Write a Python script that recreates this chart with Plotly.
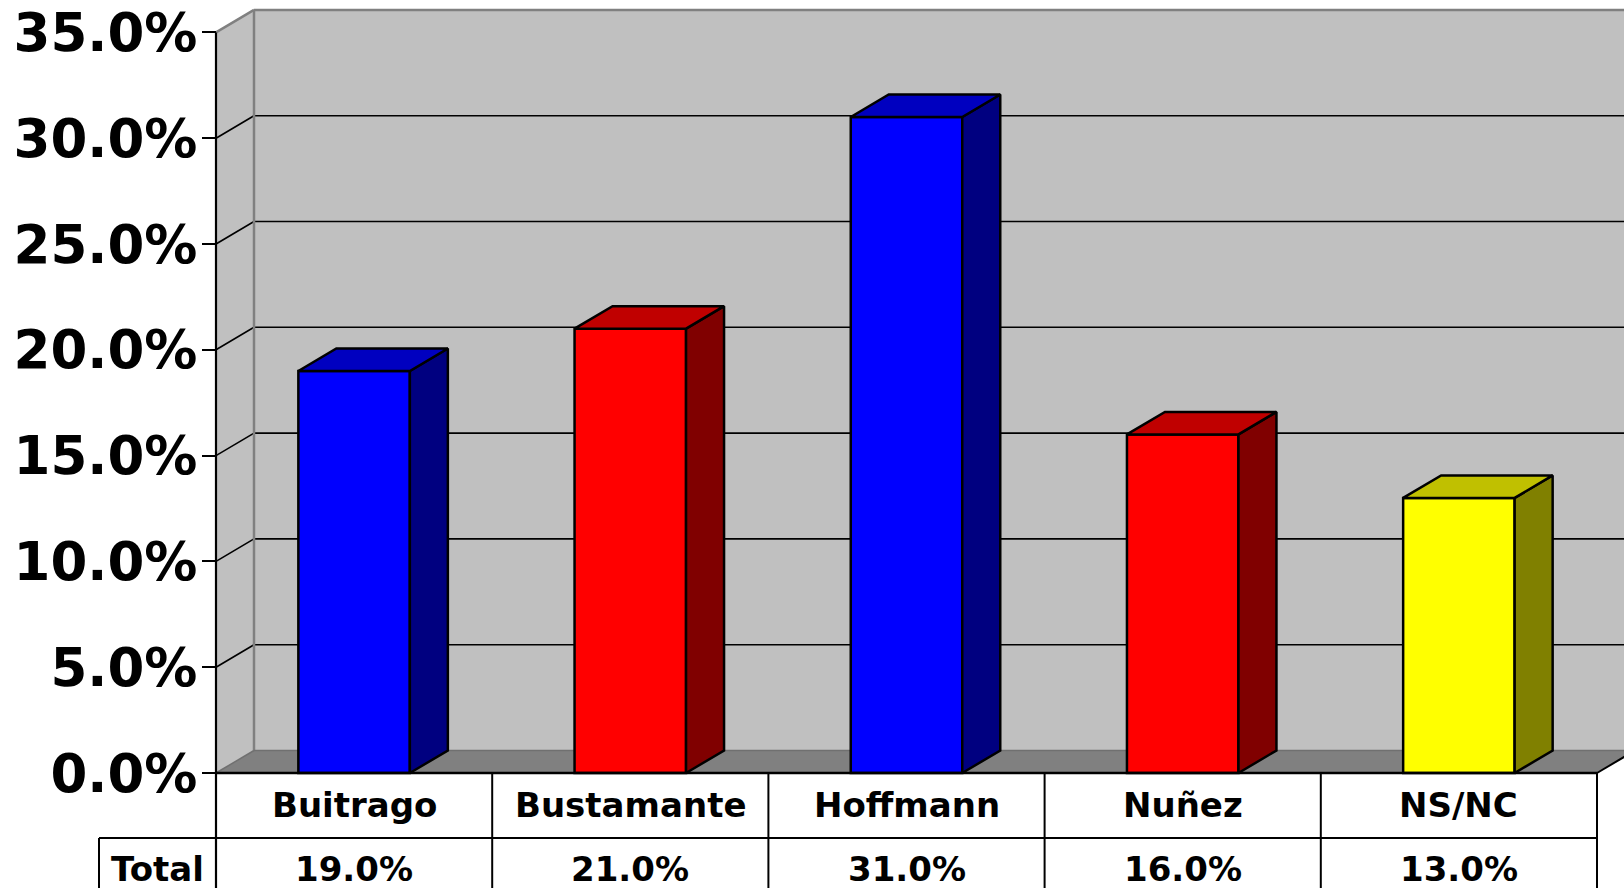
import plotly.graph_objects as go

# ---- data ----
categories = ["Buitrago", "Bustamante", "Hoffmann", "Nuñez", "NS/NC"]
values = [19.0, 21.0, 31.0, 16.0, 13.0]
row_label = "Total"
tick_values = [0, 5, 10, 15, 20, 25, 30, 35]
tick_labels = ["0.0%", "5.0%", "10.0%", "15.0%", "20.0%", "25.0%", "30.0%", "35.0%"]
front_colors = ["#0000FF", "#FF0000", "#0000FF", "#FF0000", "#FFFF00"]
side_colors = ["#000080", "#800000", "#000080", "#800000", "#808000"]
top_colors = ["#0000C0", "#C00000", "#0000C0", "#C00000", "#C0C000"]

# ---- layout geometry (pixels -> axis units) ----
W, H = 1624, 888
X0, CW = 216.0, 276.2      # pixel of left table edge, column width
Y0, K = 773.0, 21.16       # pixel of 0 %, pixels per 1 %


def px_x(p):
    return (p - X0) / CW - 0.5


def px_y(p):
    return (Y0 - p) / K


n = len(categories)
idx = list(range(n))
XA = -0.5
XE = n - 0.5
DX = 38.0 / CW
DY = 22.5 / K
BW = 111.5 / CW
YMAX = tick_values[-1]
xr = [px_x(0), px_x(W)]
yr = [px_y(H), px_y(0)]
XFAR = xr[1] + 1


def poly(pts):
    return "M " + " L ".join(f"{x},{y}" for x, y in pts) + " Z"


shapes = []
# back wall
shapes.append(dict(type="rect", xref="x", yref="y", x0=XA + DX, x1=XFAR, y0=DY, y1=YMAX + DY,
                   fillcolor="#C0C0C0", line=dict(width=0), layer="below"))
# side wall
shapes.append(dict(type="path", xref="x", yref="y",
                   path=poly([(XA, 0), (XA, YMAX), (XA + DX, YMAX + DY), (XA + DX, DY)]),
                   fillcolor="#C0C0C0", line=dict(width=0), layer="below"))
# floor
shapes.append(dict(type="path", xref="x", yref="y",
                   path=poly([(XA, 0), (XA + DX, DY), (XE + DX, DY), (XE, 0)]),
                   fillcolor="#808080", line=dict(width=0), layer="below"))
# gridlines on back wall and side wall
for v in tick_values[1:-1]:
    shapes.append(dict(type="line", xref="x", yref="y", x0=XA + DX, x1=XFAR, y0=v + DY, y1=v + DY,
                       line=dict(color="black", width=1.6), layer="below"))
    shapes.append(dict(type="line", xref="x", yref="y", x0=XA, x1=XA + DX, y0=v, y1=v + DY,
                       line=dict(color="black", width=1.6), layer="below"))
# wall borders (gray)
shapes.append(dict(type="line", xref="x", yref="y", x0=XA + DX, x1=XFAR, y0=YMAX + DY, y1=YMAX + DY,
                   line=dict(color="#808080", width=2.5), layer="below"))
shapes.append(dict(type="line", xref="x", yref="y", x0=XA + DX, x1=XA + DX, y0=DY, y1=YMAX + DY,
                   line=dict(color="#808080", width=2.5), layer="below"))
shapes.append(dict(type="line", xref="x", yref="y", x0=XA, x1=XA + DX, y0=YMAX, y1=YMAX + DY,
                   line=dict(color="#808080", width=2.5), layer="below"))
shapes.append(dict(type="line", xref="x", yref="y", x0=XA, x1=XA + DX, y0=0, y1=DY,
                   line=dict(color="#707070", width=1.5), layer="below"))
shapes.append(dict(type="line", xref="x", yref="y", x0=XA + DX, x1=XE + DX, y0=DY, y1=DY,
                   line=dict(color="#707070", width=1.5), layer="below"))
# floor right edge
shapes.append(dict(type="line", xref="x", yref="y", x0=XE, x1=XE + DX, y0=0, y1=DY,
                   line=dict(color="black", width=2), layer="above"))
# front axis line (continues as table border)
shapes.append(dict(type="line", xref="x", yref="y", x0=XA, x1=XA, y0=yr[0] - 1, y1=YMAX,
                   line=dict(color="black", width=2.2), layer="above"))

# ---- data table ----
ROW1_TOP = 0
ROW2_TOP = px_y(838)
LABEL_LEFT = px_x(99)
shapes.append(dict(type="line", xref="x", yref="y", x0=XA, x1=XE, y0=ROW1_TOP, y1=ROW1_TOP,
                   line=dict(color="black", width=2.5), layer="above"))
shapes.append(dict(type="line", xref="x", yref="y", x0=LABEL_LEFT, x1=XE, y0=ROW2_TOP, y1=ROW2_TOP,
                   line=dict(color="black", width=2), layer="above"))
for j in range(1, n + 1):
    shapes.append(dict(type="line", xref="x", yref="y", x0=XA + j, x1=XA + j, y0=yr[0] - 1, y1=0,
                       line=dict(color="black", width=2), layer="above"))
shapes.append(dict(type="line", xref="x", yref="y", x0=LABEL_LEFT, x1=LABEL_LEFT, y0=yr[0] - 1,
                   y1=ROW2_TOP, line=dict(color="black", width=2), layer="above"))

tfont = dict(family="DejaVu Sans", size=34, color="black", weight="bold")
annotations = []
row1_y = px_y(805)
row2_y = px_y(869)
for i, (c, v) in enumerate(zip(categories, values)):
    annotations.append(dict(x=i, y=row1_y, xref="x", yref="y", text=c, showarrow=False,
                            font=tfont, xanchor="center", yanchor="middle"))
    annotations.append(dict(x=i, y=row2_y, xref="x", yref="y", text=f"{v:.1f}%", showarrow=False,
                            font=tfont, xanchor="center", yanchor="middle"))
annotations.append(dict(x=(LABEL_LEFT + XA) / 2, y=row2_y, xref="x", yref="y", text=row_label,
                        showarrow=False, font=tfont, xanchor="center", yanchor="middle"))

# ---- traces ----
fig = go.Figure()
fig.add_trace(go.Bar(x=idx, y=values, width=BW, base=0,
                     marker=dict(color=front_colors, line=dict(color="black", width=2.5)),
                     hoverinfo="skip", showlegend=False))
for i, v in enumerate(values):
    xl, xrr = i - BW / 2, i + BW / 2
    side = [(xrr, 0), (xrr + DX, DY), (xrr + DX, v + DY), (xrr, v), (xrr, 0)]
    top = [(xl, v), (xl + DX, v + DY), (xrr + DX, v + DY), (xrr, v), (xl, v)]
    for pts, col in ((side, side_colors[i]), (top, top_colors[i])):
        fig.add_trace(go.Scatter(x=[p[0] for p in pts], y=[p[1] for p in pts], mode="lines",
                                 fill="toself", fillcolor=col,
                                 line=dict(color="black", width=2.5),
                                 hoverinfo="skip", showlegend=False))

fig.update_layout(
    width=W, height=H, autosize=False,
    margin=dict(l=0, r=0, t=0, b=0, pad=0),
    paper_bgcolor="white", plot_bgcolor="white",
    shapes=shapes, annotations=annotations,
    showlegend=False, hovermode=False,
    xaxis=dict(range=xr, visible=False, domain=[0, 1], fixedrange=True),
    yaxis=dict(range=yr, domain=[0, 1], anchor="free", position=X0 / W, side="left",
               tickmode="array", tickvals=tick_values, ticktext=tick_labels,
               ticks="outside", ticklen=14, tickwidth=2, tickcolor="black",
               ticklabelstandoff=-6,
               showline=False, showgrid=False, zeroline=False, fixedrange=True,
               tickfont=dict(family="DejaVu Sans", size=53, color="black", weight="bold")),
)

fig.write_html("out.html", config={"displayModeBar": False},
               post_script="document.body.style.margin='0';")
